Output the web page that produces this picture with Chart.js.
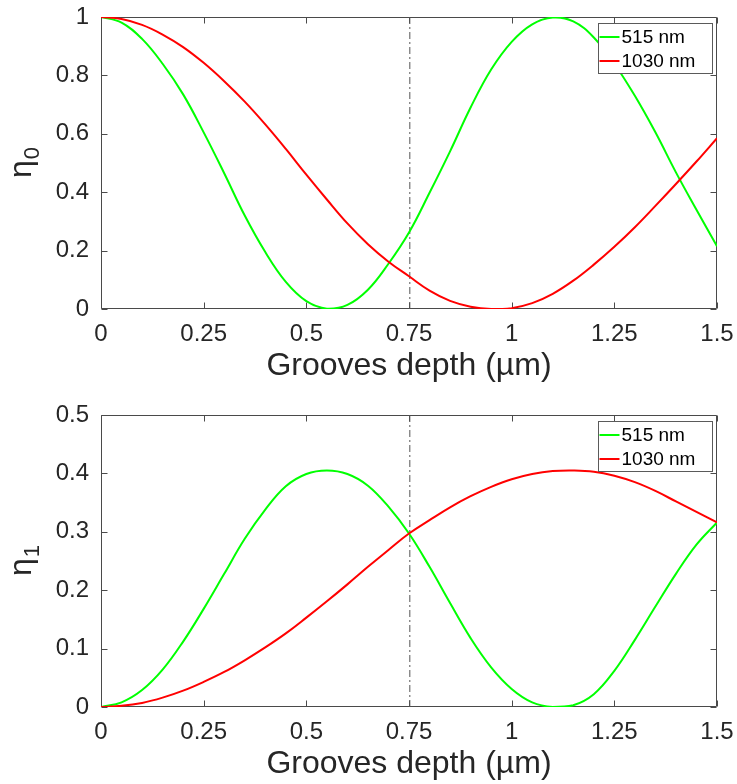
<!DOCTYPE html>
<html>
<head>
<meta charset="utf-8">
<script src="https://cdn.jsdelivr.net/npm/chart.js@4"></script>
<style>
html, body { margin: 0; padding: 0; background: #ffffff; overflow: hidden; width: 737px; height: 784px; }
.wrap { position: absolute; left: 0; width: 737px; height: 392px; }
#w1 { top: 0; }
#w2 { top: 392px; }
</style>
</head>
<body>
<div class="wrap" id="w1"><canvas id="c1"></canvas></div>
<div class="wrap" id="w2"><canvas id="c2"></canvas></div>
<script>
// ---- data ----
const depth = [0, 0.05, 0.1, 0.15, 0.2, 0.25, 0.3, 0.35, 0.4, 0.45, 0.5, 0.55, 0.6, 0.65, 0.7, 0.75,
               0.8, 0.85, 0.9, 0.95, 1.0, 1.05, 1.1, 1.15, 1.2, 1.25, 1.3, 1.35, 1.4, 1.45, 1.5];
const eta0_515 = [1.0, 0.981, 0.925, 0.84, 0.735, 0.605, 0.465, 0.32, 0.195, 0.093, 0.027, 0.001, 0.014, 0.066, 0.155, 0.262,
                  0.398, 0.54, 0.69, 0.82, 0.915, 0.975, 0.998, 0.985, 0.93, 0.84, 0.73, 0.605, 0.468, 0.34, 0.215];
const eta0_1030 = [1.0, 0.993, 0.973, 0.94, 0.897, 0.843, 0.78, 0.71, 0.632, 0.548, 0.46, 0.375, 0.293, 0.222, 0.162, 0.112,
                   0.063, 0.028, 0.008, 0.0, 0.003, 0.02, 0.052, 0.097, 0.152, 0.213, 0.28, 0.353, 0.428, 0.505, 0.585];
const eta1_515 = [0, 0.008, 0.029, 0.064, 0.112, 0.168, 0.228, 0.288, 0.338, 0.378, 0.399, 0.405, 0.399, 0.379, 0.343, 0.297,
                  0.24, 0.178, 0.118, 0.068, 0.031, 0.008, 0.0, 0.003, 0.022, 0.062, 0.115, 0.172, 0.228, 0.278, 0.316];
const eta1_1030 = [0, 0.002, 0.007, 0.016, 0.028, 0.043, 0.06, 0.08, 0.102, 0.126, 0.153, 0.181, 0.21, 0.24, 0.269, 0.297,
                   0.32, 0.342, 0.361, 0.377, 0.39, 0.399, 0.404, 0.405, 0.403, 0.396, 0.385, 0.37, 0.352, 0.334, 0.316];
const seriesLabels = ['515 nm', '1030 nm'];
const markerDepth = 0.752;
const xTicks = [0, 0.25, 0.5, 0.75, 1, 1.25, 1.5];
const xTickLabels = ['0', '0.25', '0.5', '0.75', '1', '1.25', '1.5'];
const yTicksTop = [0, 0.2, 0.4, 0.6, 0.8, 1];
const yTickLabelsTop = ['0', '0.2', '0.4', '0.6', '0.8', '1'];
const yTicksBottom = [0, 0.1, 0.2, 0.3, 0.4, 0.5];
const yTickLabelsBottom = ['0', '0.1', '0.2', '0.3', '0.4', '0.5'];
const xTitle = 'Grooves depth (\u00b5m)';
const yTitleSymbol = '\u03b7';
const yTitleSubTop = '0';
const yTitleSubBottom = '1';

// ---- styling ----
const FONT = "'Liberation Sans', Arial, Helvetica, sans-serif";
const AXIS_COLOR = '#262626';
Chart.defaults.font.family = FONT;
Chart.defaults.color = AXIS_COLOR;

const matlabAxes = {
  id: 'matlabAxes',
  beforeDatasetsDraw(chart) {
    const {ctx, chartArea: a} = chart;
    const xs = chart.scales.x, ys = chart.scales.y;
    ctx.save();
    ctx.strokeStyle = '#4a4a4a';
    ctx.lineWidth = 1;
    ctx.beginPath();
    const L = a.left + 0.5, R = a.right - 0.5, T = a.top + 0.5, B = a.bottom - 0.5;
    ctx.rect(L, T, R - L, B - T);
    const tl = 6;
    xs.ticks.forEach(t => {
      const p = Math.round(xs.getPixelForValue(t.value)) + 0.5;
      ctx.moveTo(p, B); ctx.lineTo(p, B - tl);
      ctx.moveTo(p, T); ctx.lineTo(p, T + tl);
    });
    ys.ticks.forEach(t => {
      const p = Math.round(ys.getPixelForValue(t.value)) + 0.5;
      ctx.moveTo(L, p); ctx.lineTo(L + tl, p);
      ctx.moveTo(R, p); ctx.lineTo(R - tl, p);
    });
    ctx.stroke();
    ctx.restore();
  }
};

// y-axis label with a real subscript (eta_0 / eta_1)
const subLabel = {
  id: 'subLabel',
  afterDraw(chart, args, opts) {
    const {ctx, chartArea: a} = chart;
    const cy = (a.top + a.bottom) / 2;
    const baseX = 31;
    ctx.save();
    ctx.translate(baseX, cy);
    ctx.rotate(-Math.PI / 2);
    ctx.fillStyle = AXIS_COLOR;
    ctx.textBaseline = 'alphabetic';
    ctx.textAlign = 'left';
    ctx.font = '32px ' + FONT;
    const w1 = ctx.measureText(opts.symbol).width;
    ctx.font = '22px ' + FONT;
    const w2 = ctx.measureText(opts.sub).width;
    const x0 = -(w1 + w2) / 2;
    ctx.font = '32px ' + FONT;
    ctx.fillText(opts.symbol, x0, 0);
    ctx.font = '22px ' + FONT;
    ctx.fillText(opts.sub, x0 + w1 + 1, 8);
    ctx.restore();
  }
};

const boxLegend = {
  id: 'boxLegend',
  afterDraw(chart) {
    const {ctx, chartArea: a} = chart;
    const items = chart.data.datasets.filter(d => d.inLegend);
    const w = 114, h = 50;
    const x0 = Math.round(a.right - 5 - w) + 0.5;
    const y0 = Math.round(a.top + 6) + 0.5;
    ctx.save();
    ctx.fillStyle = '#ffffff';
    ctx.strokeStyle = '#5a5a5a';
    ctx.lineWidth = 1;
    ctx.fillRect(x0, y0, w, h);
    ctx.strokeRect(x0, y0, w, h);
    ctx.font = '19px ' + FONT;
    ctx.textBaseline = 'middle';
    ctx.textAlign = 'left';
    items.forEach((d, i) => {
      const cy = y0 + 13.5 + i * 24;
      ctx.strokeStyle = d.borderColor;
      ctx.lineWidth = 2;
      ctx.beginPath();
      ctx.moveTo(x0 + 1, cy); ctx.lineTo(x0 + 21, cy);
      ctx.stroke();
      ctx.fillStyle = '#000000';
      ctx.fillText(d.label, x0 + 23, cy + 0.5);
    });
    ctx.restore();
  }
};

function makeChart(id, g, r, yMax, yTicks, yTickLabels, ySub, padTop, xAxisH, titlePad) {
  const toPts = arr => depth.map((d, i) => ({x: d, y: arr[i]}));
  return new Chart(document.getElementById(id), {
    type: 'line',
    data: {
      datasets: [
        {label: seriesLabels[0], inLegend: true, data: toPts(g), borderColor: '#00ff00', borderWidth: 2,
         pointRadius: 0, tension: 0.4, fill: false, order: 2},
        {label: seriesLabels[1], inLegend: true, data: toPts(r), borderColor: '#ff0000', borderWidth: 2,
         pointRadius: 0, tension: 0.4, fill: false, order: 1},
        {label: 'marker', inLegend: false, data: [{x: markerDepth, y: 0}, {x: markerDepth, y: yMax}],
         borderColor: '#555555', borderWidth: 1, borderDash: [7, 3, 2, 3], pointRadius: 0, fill: false, order: 3}
      ]
    },
    options: {
      responsive: true,
      maintainAspectRatio: false,
      animation: false,
      events: [],
      layout: {padding: {top: padTop, right: 20, left: 0, bottom: 0}},
      plugins: {
        legend: {display: false},
        tooltip: {enabled: false},
        subLabel: {symbol: yTitleSymbol, sub: ySub}
      },
      scales: {
        x: {
          type: 'linear', min: 0, max: 1.5,
          grid: {display: false, drawTicks: false},
          border: {display: false},
          afterBuildTicks: s => { s.ticks = xTicks.map(v => ({value: v})); },
          afterFit: s => { s.height = xAxisH; s.paddingLeft = 0; s.paddingRight = 0; },
          ticks: {
            padding: 11, maxRotation: 0, autoSkip: false,
            font: {size: 24}, color: AXIS_COLOR,
            callback: (v) => { const i = xTicks.indexOf(v); return i >= 0 ? xTickLabels[i] : ''; }
          },
          title: {display: true, text: xTitle, font: {size: 32}, color: AXIS_COLOR, padding: {top: 0, bottom: titlePad}}
        },
        y: {
          type: 'linear', min: 0, max: yMax,
          grid: {display: false, drawTicks: false},
          border: {display: false},
          afterBuildTicks: s => { s.ticks = yTicks.map(v => ({value: v})); },
          afterFit: s => { s.width = 101; s.paddingTop = 0; s.paddingBottom = 0; },
          ticks: {
            padding: 12, autoSkip: false,
            font: {size: 24}, color: AXIS_COLOR,
            callback: (v) => { const i = yTicks.findIndex(t => Math.abs(t - v) < 1e-9); return i >= 0 ? yTickLabels[i] : ''; }
          },
          title: {display: false}
        }
      }
    },
    plugins: [matlabAxes, boxLegend, subLabel]
  });
}

makeChart('c1', eta0_515, eta0_1030, 1, yTicksTop, yTickLabelsTop, yTitleSubTop, 17, 83, 7);
makeChart('c2', eta1_515, eta1_1030, 0.5, yTicksBottom, yTickLabelsBottom, yTitleSubBottom, 23, 77, 1);
</script>
</body>
</html>
